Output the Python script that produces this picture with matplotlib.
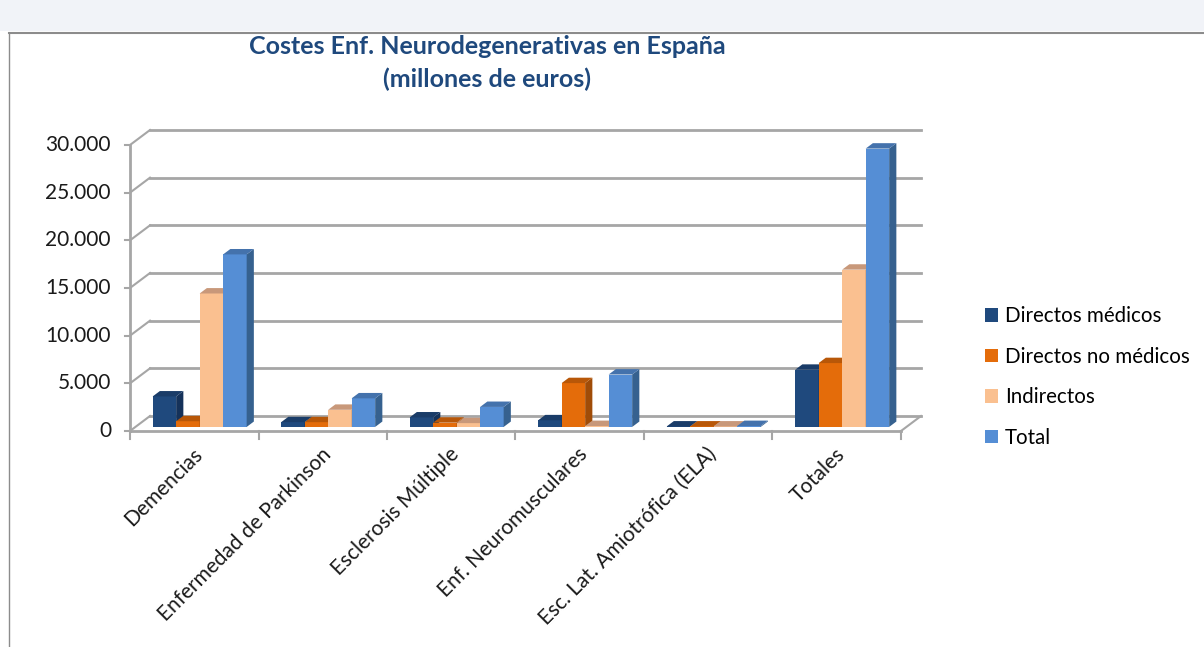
import numpy as np
import matplotlib.pyplot as plt
from matplotlib.patches import Polygon, Rectangle, Patch

plt.rcParams['font.family'] = ['Lato', 'DejaVu Sans']

# data (millones de euros)
categorias = ["Demencias", "Enfermedad de Parkinson", "Esclerosis Múltiple",
              "Enf. Neuromusculares", "Esc. Lat. Amiotrófica (ELA)", "Totales"]
series = ["Directos médicos", "Directos no médicos", "Indirectos", "Total"]
directos_medicos = [3200, 500, 1000, 700, 50, 6000]
directos_no_medicos = [600, 500, 450, 4600, 50, 6700]
indirectos = [14000, 1800, 400, 100, 50, 16500]
total = [18100, 3000, 2100, 5500, 100, 29200]
valores = [directos_medicos, directos_no_medicos, indirectos, total]

y_ticks = [0, 5000, 10000, 15000, 20000, 25000, 30000]
y_ticklabels = ["0", "5.000", "10.000", "15.000", "20.000", "25.000", "30.000"]

front = ['#1f497d', '#e46c0a', '#fac090', '#558ed5']
top = ['#1a3c68', '#b85708', '#c8987a', '#4472ac']
side = ['#15325a', '#a04c08', '#b88a66', '#36618f']

W, H = 1204, 647
fig = plt.figure(figsize=(W / 100, H / 100), dpi=100)

# window header band and chart border
fig.patches.append(Rectangle((0, 1 - 31 / H), 1, 31 / H, transform=fig.transFigure,
                             facecolor='#f1f3f8', edgecolor='none', zorder=0))
fig.add_artist(plt.Line2D([9 / W, 1], [1 - 33 / H, 1 - 33 / H], transform=fig.transFigure,
                          color='#8c8c8c', lw=1.5))
fig.add_artist(plt.Line2D([9 / W, 9 / W], [0, 1 - 33 / H], transform=fig.transFigure,
                          color='#8c8c8c', lw=1.0))

# front plane of the plot: x 0..6, y 0..30000
x0, x1, yb, yt = 130, 901, 431, 145
ax = fig.add_axes([x0 / W, 1 - yb / H, (x1 - x0) / W, (yb - yt) / H])
ax.set_xlim(0, 6)
ax.set_ylim(0, 30000)
ax.axis('off')

pxx = (x1 - x0) / 6.0
pxy = (yb - yt) / 30000.0
dx = 20 / pxx          # depth of the walls in data units
dy = 15 / pxy

grid_c = '#a6a6a6'
for v in y_ticks:
    ax.plot([dx, 6 + dx], [v + dy, v + dy], color=grid_c, lw=2, clip_on=False, zorder=1)
    ax.plot([0, dx], [v, v + dy], color=grid_c, lw=1.5, clip_on=False, zorder=1)
    ax.plot([-5 / pxx, 0], [v, v], color=grid_c, lw=1.5, clip_on=False, zorder=1)
# axes lines
ax.plot([0, 0], [0, 30000], color=grid_c, lw=2, clip_on=False, zorder=1)
ax.plot([0, 6], [0, 0], color=grid_c, lw=2, clip_on=False, zorder=1)
ax.plot([6, 6 + dx], [0, dy], color=grid_c, lw=1.5, clip_on=False, zorder=1)
for i in range(7):
    ax.plot([i, i], [0, -8 / pxy], color=grid_c, lw=1.5, clip_on=False, zorder=1)

for v, lab in zip(y_ticks, y_ticklabels):
    ax.text(-19 / pxx, v, lab, ha='right', va='center', fontsize=15, color='#1a1a1a')

for i, lab in enumerate(categorias):
    ax.text(i + 0.5 + 5 / pxx, -20 / pxy, lab, ha='right', va='center', rotation=45,
            rotation_mode='anchor', fontsize=15, color='#1a1a1a')

# 3d-looking bars
bw = 23.5 / pxx
bdx, bdy = 0.27 * dx, 0.27 * dy
sdx, sdy = 0.36 * dx, 0.36 * dy
z = 2
for i in range(len(categorias)):
    left0 = i + 0.5 - 2 * bw + bdx
    for j in range(len(series)):
        v = valores[j][i]
        l = left0 + j * bw
        r = l + bw
        ax.bar(l, v, width=bw, bottom=bdy, align='edge', color=front[j],
               edgecolor='none', clip_on=False, zorder=z)
        ax.add_patch(Polygon([(r, bdy), (r + sdx, bdy + sdy), (r + sdx, bdy + v + sdy), (r, bdy + v)],
                             closed=True, facecolor=side[j], edgecolor='none', clip_on=False, zorder=z))
        ax.add_patch(Polygon([(l, bdy + v), (r, bdy + v), (r + sdx, bdy + v + sdy), (l + sdx, bdy + v + sdy)],
                             closed=True, facecolor=top[j], edgecolor='none', clip_on=False, zorder=z))
        z += 1

fig.text(487 / W, 1 - 46 / H, "Costes Enf. Neurodegenerativas en España", ha='center', va='center',
         fontsize=18, fontweight='bold', color='#1f497d')
fig.text(487 / W, 1 - 79 / H, "(millones de euros)", ha='center', va='center',
         fontsize=18, fontweight='bold', color='#1f497d')

handles = [Patch(facecolor=front[j], edgecolor='none') for j in range(len(series))]
fig.legend(handles, series, loc='center left', bbox_to_anchor=(966 / W, 1 - 377 / H),
           frameon=False, fontsize=14.8, handlelength=0.65, handleheight=0.65,
           handletextpad=0.35, labelspacing=1.0)

fig.savefig('out.png', dpi=100)
